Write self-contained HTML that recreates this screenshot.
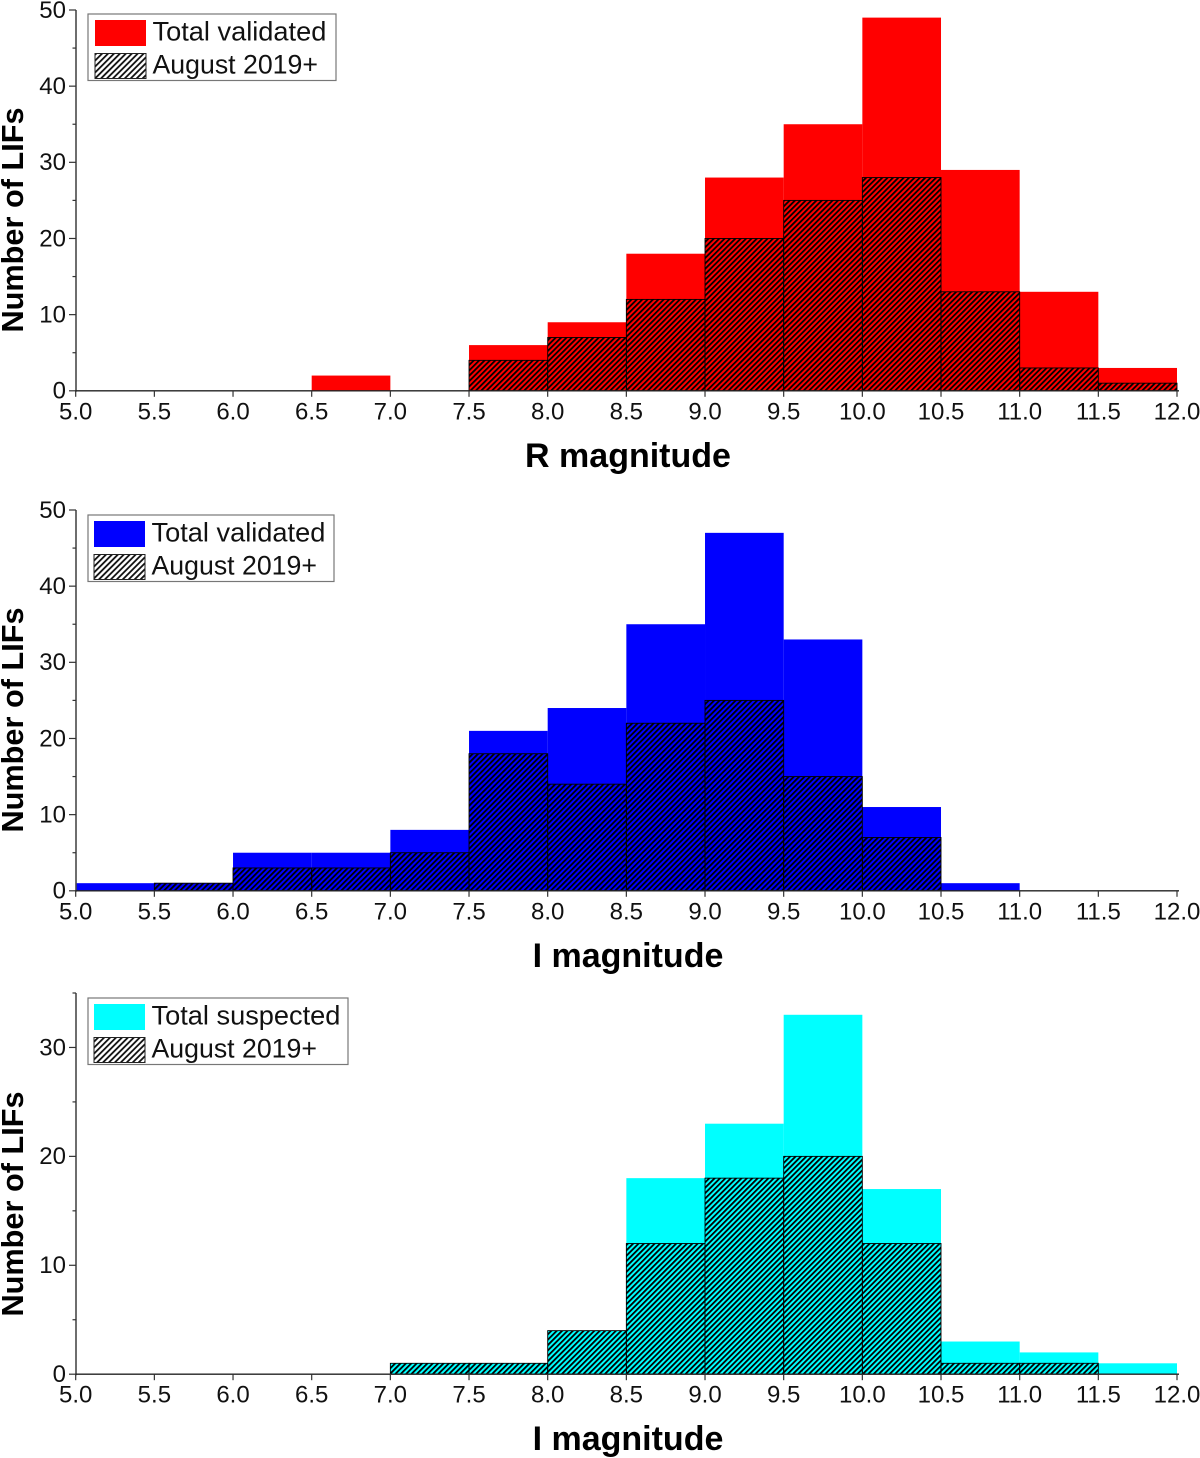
<!DOCTYPE html>
<html>
<head>
<meta charset="utf-8">
<title>LIF magnitude histograms</title>
<style>
html,body{margin:0;padding:0;background:#fff;}
svg{display:block;font-family:"Liberation Sans",sans-serif;filter:blur(0.35px);}
</style>
</head>
<body>
<svg id="chart" xmlns="http://www.w3.org/2000/svg" width="1200" height="1458" viewBox="0 0 1200 1458">
<defs>
<pattern id="hatch" patternUnits="userSpaceOnUse" width="3.8" height="3.8" patternTransform="rotate(45)">
<rect x="0" y="0" width="1.8" height="3.8" fill="#000"></rect>
</pattern>
<pattern id="hatch-legend" patternUnits="userSpaceOnUse" width="4.2" height="4.2" patternTransform="rotate(45)">
<rect x="0" y="0" width="1.8" height="4.2" fill="#111"></rect>
</pattern>
</defs>
</svg>
<script>
const binStarts = [5.0,5.5,6.0,6.5,7.0,7.5,8.0,8.5,9.0,9.5,10.0,10.5,11.0,11.5];
const xTickLabels = ['5.0','5.5','6.0','6.5','7.0','7.5','8.0','8.5','9.0','9.5','10.0','10.5','11.0','11.5','12.0'];
const rTotalValidated = [0,0,0,2,0,6,9,18,28,35,49,29,13,3];
const rAugust2019 = [0,0,0,0,0,4,7,12,20,25,28,13,3,1];
const iTotalValidated = [1,1,5,5,8,21,24,35,47,33,11,1,0,0];
const iAugust2019 = [0,1,3,3,5,18,14,22,25,15,7,0,0,0];
const iTotalSuspected = [0,0,0,0,1,1,4,18,23,33,17,3,2,1];
const iSuspectedAugust2019 = [0,0,0,0,1,1,4,12,18,20,12,1,1,0];
const yTicksFifty = [0,10,20,30,40,50];
const yTicksThirtyFive = [0,10,20,30];

const NS = 'http://www.w3.org/2000/svg';
const root = document.getElementById('chart');
const BIN_WIDTH = 0.5;
const AXIS = '#4a4a4a';

function mk(tag, attrs, parent, text) {
  const node = document.createElementNS(NS, tag);
  for (const k in attrs) node.setAttribute(k, attrs[k]);
  if (text !== undefined) node.textContent = text;
  parent.appendChild(node);
  return node;
}
function xScale(v) { return 75.7 + (v - 5) * (1177 - 75.7) / 7; }

function drawPanel(cfg) {
  const g = mk('g', {}, root);
  
  
  const y = v => cfg.y0 + (v - 0) * (cfg.yTop - cfg.y0) / cfg.yMax;

  binStarts.forEach((b, i) => {
    if (!cfg.total[i]) return;
    const r = mk('rect', {x: xScale(b), y: y(cfg.total[i]), width: xScale(b + BIN_WIDTH) - xScale(b), height: y(0) - y(cfg.total[i]), fill: cfg.color}, g);
    
    
  });
  binStarts.forEach((b, i) => {
    if (!cfg.recent[i]) return;
    const r = mk('rect', {x: xScale(b), y: y(cfg.recent[i]), width: xScale(b + BIN_WIDTH) - xScale(b), height: y(0) - y(cfg.recent[i]), fill: 'url(#hatch)', stroke: '#000', 'stroke-width': 0.9}, g);
    
    
  });

  const yAxis = mk('line', {x1: 76, x2: 76, y1: y(cfg.yMax), y2: y(0) + 1, stroke: AXIS, 'stroke-width': 1.6}, g);
  
  
  const xAxis = mk('line', {x1: 75, x2: 1179, y1: y(0), y2: y(0), stroke: '#222', 'stroke-width': 1.4}, g);
  
  

  xTickLabels.forEach(label => {
    const v = parseFloat(label);
    const t = mk('line', {x1: xScale(v), x2: xScale(v), y1: y(0), y2: y(0) + 6, stroke: '#333', 'stroke-width': 1.2}, g);
    
    
    const tl = mk('text', {x: xScale(v), y: y(0) + 28.5, 'text-anchor': 'middle', 'font-size': 24, fill: '#111'}, g, label);
    
    
  });
  cfg.yTicks.forEach(v => {
    const t = mk('line', {x1: 69, x2: 76, y1: y(v), y2: y(v), stroke: '#333', 'stroke-width': 1.2}, g);
    
    
    const tl = mk('text', {x: 66, y: y(v) + 7.8, 'text-anchor': 'end', 'font-size': 24, fill: '#111'}, g, String(v));
    
    
    const m = v + 5;
    if (m <= cfg.yMax) {
      const mt = mk('line', {x1: 72.5, x2: 76, y1: y(m), y2: y(m), stroke: '#333', 'stroke-width': 1.2}, g);
      
      
    }
  });

  const xt = mk('text', {x: cfg.xTitleX, y: y(0) + 76, 'text-anchor': 'middle', 'font-size': 34, 'font-weight': 'bold', fill: '#000'}, g, cfg.xTitle);
  
  
  const yt = mk('text', {x: 0, y: 0, transform: 'translate(23,' + cfg.yTitleY + ') rotate(-90)', 'text-anchor': 'middle', 'font-size': 30.7, 'font-weight': 'bold', fill: '#000'}, g, 'Number of LIFs');
  
  

  const lg = mk('g', {}, g);
  
  
  const L = cfg.legend;
  const box = mk('rect', {x: 88, y: L.top, width: L.width, height: 66.5, fill: '#fff', stroke: '#777', 'stroke-width': 1.2}, lg);
  
  
  const s1 = mk('rect', {x: L.sx, y: L.top + 6, width: 51, height: 26, fill: cfg.color}, lg);
  
  
  const s2 = mk('rect', {x: L.sx, y: L.top + 39.5, width: 51, height: 25, fill: 'url(#hatch-legend)', stroke: '#222', 'stroke-width': 1}, lg);
  
  
  const t1 = mk('text', {x: L.sx + 57.5, y: L.top + 26.5, 'font-size': 27.2, fill: '#111'}, lg, cfg.totalLabel);
  
  
  const t2 = mk('text', {x: L.sx + 57.5, y: L.top + 59.5, 'font-size': 26.7, fill: '#111'}, lg, 'August 2019+');
  
  
}

drawPanel({name: 'r-magnitude', y0: 390.8, yTop: 10, yMax: 50, yTicks: yTicksFifty, total: rTotalValidated, recent: rAugust2019, color: '#ff0000', xTitle: 'R magnitude', xTitleX: 628, yTitleY: 220, totalLabel: 'Total validated', legend: {top: 14, width: 248, sx: 95}});
drawPanel({name: 'i-magnitude-validated', y0: 890.8, yTop: 510, yMax: 50, yTicks: yTicksFifty, total: iTotalValidated, recent: iAugust2019, color: '#0000ff', xTitle: 'I magnitude', xTitleX: 628, yTitleY: 720, totalLabel: 'Total validated', legend: {top: 515, width: 246, sx: 94}});
drawPanel({name: 'i-magnitude-suspected', y0: 1374.2, yTop: 993, yMax: 35, yTicks: yTicksThirtyFive, total: iTotalSuspected, recent: iSuspectedAugust2019, color: '#00ffff', xTitle: 'I magnitude', xTitleX: 628, yTitleY: 1204, totalLabel: 'Total suspected', legend: {top: 998, width: 260, sx: 94}});
</script>
</body>
</html>
